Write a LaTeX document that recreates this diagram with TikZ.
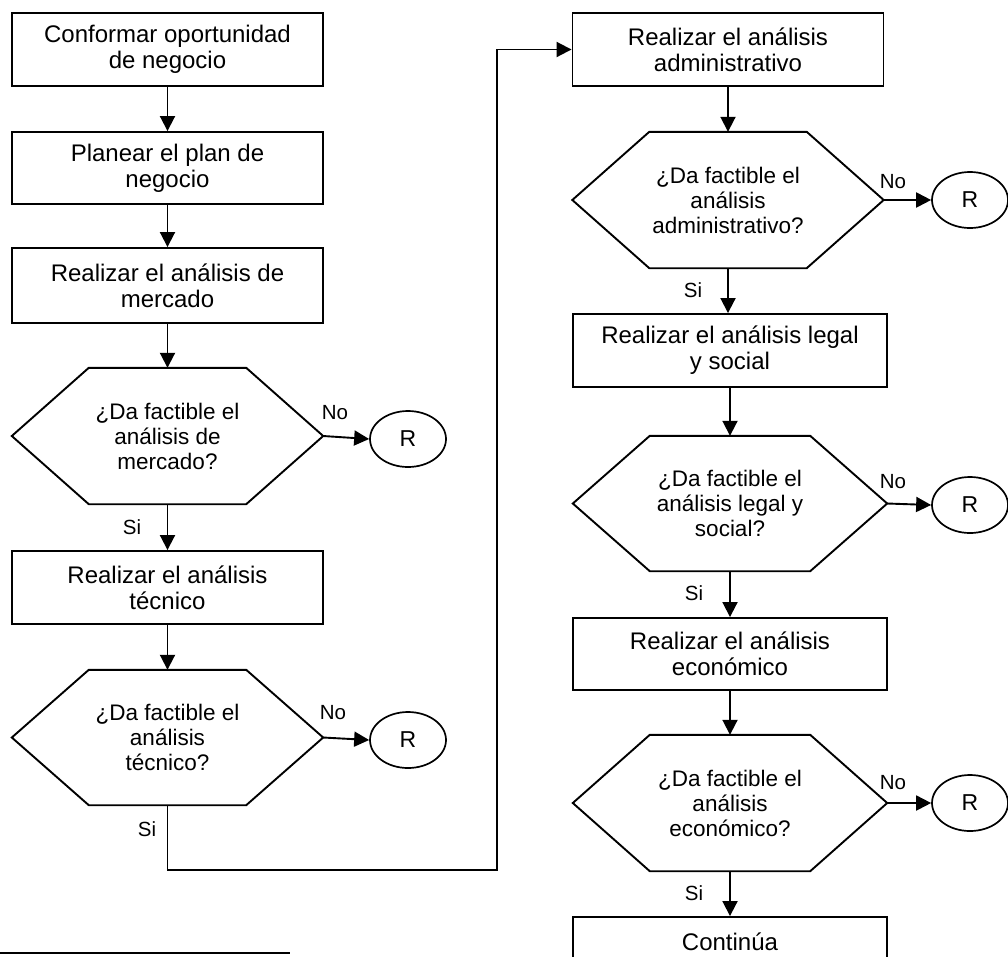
\documentclass[tikz,border=0pt]{standalone}
\usepackage{fontspec}
\setmainfont{Liberation Sans}
\usetikzlibrary{shapes.geometric,arrows.meta,calc}
\tikzset{
  procbox/.style={draw, line width=1.9pt, rectangle, minimum height=73pt, inner sep=0pt, align=center, font=\fontsize{24}{26}\selectfont},
  leftw/.style={minimum width=311pt},
  rightw/.style={minimum width=314pt},
  hexbox/.style={rectangle, minimum height=136pt, inner sep=0pt, align=center, font=\fontsize{22.5}{25}\selectfont},
  hexline/.style={line width=1.9pt, line join=miter},
  term/.style={ellipse, draw, line width=1.7pt, minimum width=76pt, minimum height=56pt, inner sep=0pt, font=\fontsize{23}{23}\selectfont},
  arr/.style={-{Triangle[length=15pt,width=15pt]}, line width=1.9pt},
  lbl/.style={font=\fontsize{20.5}{20.5}\selectfont, inner sep=0pt},
}
\begin{document}
\begin{tikzpicture}[x=1pt, y=-1pt]
\clip (0,0) rectangle (1008,956);
% left column
\node[procbox, leftw] (b1) at (167.5,49.5) {Conformar oportunidad\\de negocio};
\node[procbox, leftw, minimum height=72pt] (b2) at (167.5,168) {Planear el plan de\\negocio};
\node[procbox, leftw, minimum height=75pt] (b3) at (167.5,285.5) {Realizar el análisis de\\mercado};
\node[hexbox, leftw] (h1) at (167.5,436) {¿Da factible el\\análisis de\\mercado?};
\node[term] (r1) at (408,439) {R};
\node[procbox, leftw] (b4) at (167.5,587.5) {Realizar el análisis\\técnico};
\node[hexbox, leftw, minimum height=135pt] (h2) at (167.5,737.5) {¿Da factible el\\análisis\\técnico?};
\node[term] (r2) at (408,740) {R};
% right column
\node[procbox, leftw] (b5) at (728,49.5) {Realizar el análisis\\administrativo};
\node[hexbox, leftw] (h3) at (728,200) {¿Da factible el\\análisis\\administrativo?};
\node[term] (r3) at (970,200) {R};
\node[procbox, rightw] (b6) at (730,350.5) {Realizar el análisis legal\\y social};
\node[hexbox, rightw, minimum height=135pt] (h4) at (730,503.5) {¿Da factible el\\análisis legal y\\social?};
\node[term] (r4) at (970,505) {R};
\node[procbox, rightw, minimum height=72pt] (b7) at (730,654) {Realizar el análisis\\económico};
\node[hexbox, rightw] (h5) at (730,803) {¿Da factible el\\análisis\\económico?};
\node[term] (r5) at (970,803) {R};
\node[procbox, rightw, minimum height=50pt] (b8) at (730,942) {Continúa};
% hexagon outlines
\foreach \h in {h1,h2,h3,h4,h5}
  \draw[hexline] (\h.west) -- ($(\h.north west)+(77,0)$) -- ($(\h.north east)+(-77,0)$) -- (\h.east) -- ($(\h.south east)+(-77,0)$) -- ($(\h.south west)+(77,0)$) -- cycle;
% vertical arrows
\draw[arr] (b1) -- (b2);
\draw[arr] (b2) -- (b3);
\draw[arr] (b3) -- (h1);
\draw[arr] (h1) -- (b4);
\draw[arr] (b4) -- (h2);
\draw[arr] (b5) -- (h3);
\draw[arr] (h3.south) -- (h3.south |- b6.north);
\draw[arr] (b6.south) -- (b6.south |- h4.north);
\draw[arr] (h4) -- (b7);
\draw[arr] (b7) -- (h5);
\draw[arr] (h5) -- (b8);
% No arrows
\draw[arr] (h1.east) -- (r1.west);
\draw[arr] (h2.east) -- (r2.west);
\draw[arr] (h3.east) -- (r3.west);
\draw[arr] (h4.east) -- (r4.west);
\draw[arr] (h5.east) -- (r5.west);
% connector from left column to right column
\coordinate (c1) at (497,870);
\draw[arr] (h2.south) |- (c1) |- (b5.west);
% labels
\node[lbl] (n1) at (335,413) {No};
\node[lbl] (n2) at (333,713) {No};
\node[lbl] (n3) at (893,182) {No};
\node[lbl] (n4) at (893,482) {No};
\node[lbl] (n5) at (893,783) {No};
\node[lbl] (s1) at (132,527) {Si};
\node[lbl] (s2) at (147,829) {Si};
\node[lbl] (s3) at (693,290) {Si};
\node[lbl] (s4) at (694,593) {Si};
\node[lbl] (s5) at (694,893) {Si};
% footnote separator
\coordinate (f1) at (0,953);
\coordinate (f2) at (290,953);
\draw[line width=2.2pt] (f1) -- (f2);
\end{tikzpicture}
\end{document}
